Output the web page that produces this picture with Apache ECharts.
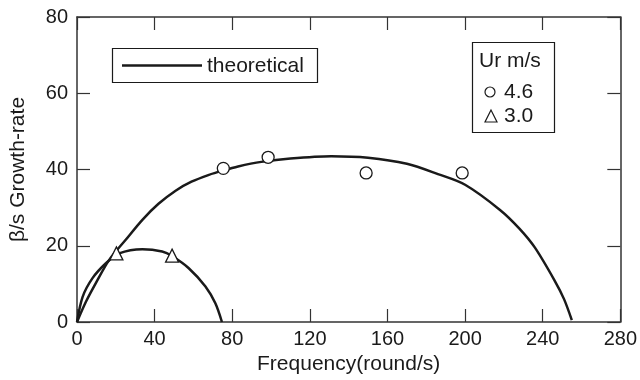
<!DOCTYPE html>
<html>
<head>
<meta charset="utf-8">
<script src="https://cdn.jsdelivr.net/npm/echarts@6/dist/echarts.min.js"></script>
<style>
  html, body { margin: 0; padding: 0; background: #fff; }
  #chart { width: 640px; height: 380px; }
</style>
</head>
<body>
<div id="chart"></div>
<script>
// theoretical curves
var theoryHigh = [[0, 0], [4.6, 5.3], [9.7, 10.2], [16.6, 16.3], [25, 21.5], [33.7, 26.8], [42, 31],
    [51, 34.5], [59, 36.8], [68, 38.6], [75, 39.7], [83, 40.8], [95, 42], [110, 42.9], [131, 43.5],
    [150, 43.1], [170, 41.5], [186, 38.8], [200, 36], [218, 29.4], [228, 24.5], [236, 19.5],
    [246, 11], [251, 6], [255, 0.5]];
var theoryLow = [[0, 0], [2.9, 6.6], [8, 11.5], [14.9, 15.4], [21.7, 18], [33.7, 19.1], [43.9, 18.5],
    [49, 17.3], [57.6, 14.1], [66.2, 9.3], [71.3, 4.9], [74.7, 0]];
// measurements
var ur46 = [[75.4, 40.3], [98.5, 43.2], [149, 39.1], [198.5, 39.1]];
var ur30 = [[20.3, 18], [49, 17.4]];
var xTicks = [0, 40, 80, 120, 160, 200, 240, 280];
var yTicks = [0, 20, 40, 60, 80];

var ink = '#1a1a1a';
var font = 'Liberation Sans, Arial, sans-serif';

var myChart = echarts.init(document.getElementById('chart'));

function axisBase(pos, max, interval, showLabel) {
    return {
        type: 'value',
        position: pos,
        min: 0,
        max: max,
        interval: interval,
        splitLine: { show: false },
        axisLine: { show: true, onZero: false, lineStyle: { color: '#333', width: 1.5 } },
        axisTick: { show: true, inside: true, length: 13, lineStyle: { color: '#333', width: 1.2 } },
        axisLabel: { show: showLabel, color: ink, fontSize: 20, fontFamily: font, margin: 7 }
    };
}

var xBottom = axisBase('bottom', xTicks[xTicks.length - 1], 40, true);
xBottom.name = 'Frequency(round/s)';
xBottom.nameLocation = 'middle';
xBottom.nameGap = 32;
xBottom.nameTextStyle = { color: ink, fontSize: 21, fontFamily: font };
var xTop = axisBase('top', xTicks[xTicks.length - 1], 40, false);

var yLeft = axisBase('left', yTicks[yTicks.length - 1], 20, true);
yLeft.axisLabel.margin = 9;
yLeft.name = 'β/s Growth-rate';
yLeft.nameLocation = 'middle';
yLeft.nameGap = 48;
yLeft.nameTextStyle = { color: ink, fontSize: 21, fontFamily: font };
var yRight = axisBase('right', yTicks[yTicks.length - 1], 20, false);

var option = {
    backgroundColor: '#fff',
    animation: false,
    grid: { left: 77, right: 17, top: 17, bottom: 58 },
    xAxis: [xBottom, xTop],
    yAxis: [yLeft, yRight],
    series: [
        {
            name: 'theoretical', type: 'line', data: theoryHigh, smooth: 0.3,
            showSymbol: false, lineStyle: { color: ink, width: 2.5 }, z: 2
        },
        {
            name: 'theoretical low', type: 'line', data: theoryLow, smooth: 0.3,
            showSymbol: false, lineStyle: { color: ink, width: 2.5 }, z: 2
        },
        {
            name: '4.6', type: 'scatter', data: ur46, symbol: 'circle', symbolSize: 12,
            itemStyle: { color: '#fff', borderColor: ink, borderWidth: 1.3, opacity: 1 }, z: 3
        },
        {
            name: '3.0', type: 'scatter', data: ur30, symbol: 'triangle', symbolSize: 13,
            itemStyle: { color: '#fff', borderColor: ink, borderWidth: 1.3, opacity: 1 }, z: 3
        }
    ],
    graphic: [
        // legend: theoretical
        { type: 'rect', shape: { x: 112.5, y: 48.5, width: 205, height: 34 },
          style: { fill: '#fff', stroke: ink, lineWidth: 1.2 }, z: 10 },
        { type: 'line', shape: { x1: 122, y1: 65.5, x2: 202, y2: 65.5 },
          style: { stroke: ink, lineWidth: 2.5 }, z: 11 },
        { type: 'text', x: 207, y: 66,
          style: { text: 'theoretical', fill: ink, font: '21px ' + font, verticalAlign: 'middle' }, z: 11 },
        // legend: Ur m/s
        { type: 'rect', shape: { x: 472.5, y: 42.5, width: 82, height: 90 },
          style: { fill: '#fff', stroke: ink, lineWidth: 1.2 }, z: 10 },
        { type: 'text', x: 479, y: 61,
          style: { text: 'Ur m/s', fill: ink, font: '21px ' + font, verticalAlign: 'middle' }, z: 11 },
        { type: 'circle', shape: { cx: 490, cy: 92, r: 5 },
          style: { fill: '#fff', stroke: ink, lineWidth: 1.2 }, z: 11 },
        { type: 'text', x: 504, y: 92,
          style: { text: '4.6', fill: ink, font: '21px ' + font, verticalAlign: 'middle' }, z: 11 },
        { type: 'polygon', shape: { points: [[491, 110], [485, 122], [497, 122]] },
          style: { fill: '#fff', stroke: ink, lineWidth: 1.2 }, z: 11 },
        { type: 'text', x: 504, y: 116,
          style: { text: '3.0', fill: ink, font: '21px ' + font, verticalAlign: 'middle' }, z: 11 }
    ]
};

myChart.setOption(option);
window.onresize = myChart.resize;
</script>
</body>
</html>
